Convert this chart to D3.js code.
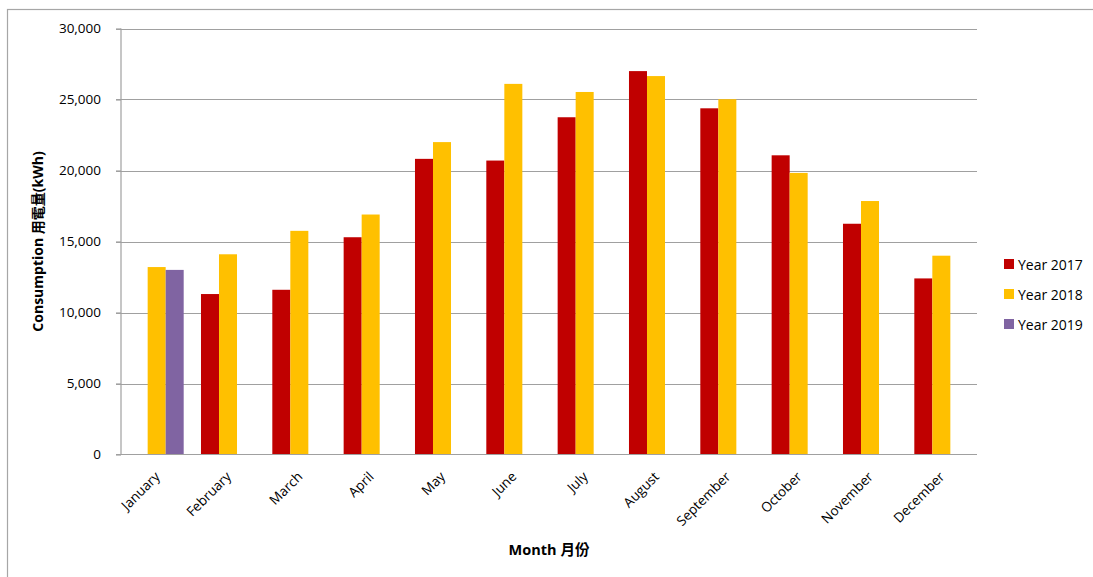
<!DOCTYPE html>
<html>
<head>
<meta charset="utf-8">
<script src="https://cdn.jsdelivr.net/npm/d3@7.9.0/dist/d3.min.js"></script>
<style>
  body { margin: 0; background: #fff; }
  text { font-family: "Open Sans", "Noto Sans CJK TC", sans-serif; fill: #000; }
</style>
</head>
<body>
<svg id="chart" width="1093" height="577"></svg>
<script>
const months = ["January", "February", "March", "April", "May", "June",
  "July", "August", "September", "October", "November", "December"];
const seriesNames = ["Year 2017", "Year 2018", "Year 2019"];
const colors = ["#C00000", "#FFC000", "#8064A2"];

const year2017 = [null, 11300, 11600, 15300, 20820, 20700, 23750, 27000, 24380, 21070, 16250, 12400];
const year2018 = [13200, 14100, 15750, 16900, 22000, 26100, 25530, 26650, 25020, 19830, 17850, 14000];
const year2019 = [13000, null, null, null, null, null, null, null, null, null, null, null];

const yTicks = [0, 5000, 10000, 15000, 20000, 25000, 30000];

const svg = d3.select("#chart");

// outer chart border
svg.append("rect")
  .attr("x", 7.5).attr("y", 9.5)
  .attr("width", 1100).attr("height", 600)
  .attr("fill", "none")
  .attr("stroke", "#a6a6a6")
  .attr("stroke-width", 1.2);

const margin = { top: 28.5, left: 121, right: 977, bottom: 454.5 };

const x = d3.scaleBand()
  .domain(months)
  .range([margin.left, margin.right])
  .paddingInner(0)
  .paddingOuter(0);

const xSub = d3.scaleBand()
  .domain(seriesNames)
  .range([0, x.bandwidth()])
  .paddingOuter(0.48)
  .paddingInner(0);

const y = d3.scaleLinear().domain([0, 30000]).range([margin.bottom, margin.top]);

// gridlines
svg.append("g")
  .selectAll("line")
  .data(yTicks.slice(1))
  .join("line")
  .attr("x1", margin.left - 5).attr("x2", margin.right)
  .attr("y1", d => Math.round(y(d)) + 0.5).attr("y2", d => Math.round(y(d)) + 0.5)
  .attr("stroke", "#a0a0a0")
  .attr("stroke-width", 1.2);

// bars
const rows = months.map((m, i) => ({
  month: m,
  values: [year2017[i], year2018[i], year2019[i]]
}));

svg.append("g")
  .selectAll("g")
  .data(rows)
  .join("g")
  .attr("transform", d => `translate(${x(d.month)},0)`)
  .selectAll("rect")
  .data(d => d.values.map((v, j) => ({ key: seriesNames[j], value: v, color: colors[j] }))
    .filter(d => d.value != null))
  .join("rect")
  .attr("x", d => xSub(d.key))
  .attr("width", xSub.bandwidth())
  .attr("y", d => y(d.value))
  .attr("height", d => y(0) - y(d.value))
  .attr("fill", d => d.color);

// y axis
const yAxis = svg.append("g")
  .attr("transform", `translate(${margin.left},0)`)
  .call(d3.axisLeft(y).tickValues(yTicks).tickSize(5).tickPadding(15)
    .tickFormat(d3.format(",")));
yAxis.select(".domain").attr("stroke", "#a0a0a0").attr("stroke-width", 1.2)
  .attr("d", `M0,${margin.top}V${margin.bottom}`);
yAxis.selectAll(".tick line").attr("stroke", "#a0a0a0").attr("stroke-width", 1.2);
yAxis.selectAll(".tick text")
  .style("font-size", "13.5px")
  .style("font-family", "'Open Sans', sans-serif")
  .attr("fill", "#000");

// x axis
const xAxis = svg.append("g")
  .attr("transform", `translate(0,${margin.bottom})`)
  .call(d3.axisBottom(x).tickSize(0).tickPadding(0));
xAxis.select(".domain").attr("stroke", "#a0a0a0").attr("stroke-width", 1.2)
  .attr("d", `M${margin.left - 5},0H${margin.right}`);
xAxis.selectAll(".tick text")
  .style("font-size", "13.5px")
  .style("font-family", "'Open Sans', sans-serif")
  .attr("fill", "#000")
  .attr("text-anchor", "end")
  .attr("dy", "0")
  .attr("transform", "translate(4,23) rotate(-45)");

// axis titles
svg.append("text")
  .attr("transform", `translate(43,${(margin.top + margin.bottom) / 2}) rotate(-90)`)
  .attr("text-anchor", "middle")
  .style("font-size", "14px")
  .style("font-weight", "bold")
  .text("Consumption 用電量(kWh)");

svg.append("text")
  .attr("x", (margin.left + margin.right) / 2)
  .attr("y", 555)
  .attr("text-anchor", "middle")
  .style("font-size", "14.5px")
  .style("font-weight", "bold")
  .text("Month 月份");

// legend
const legend = svg.append("g").attr("transform", "translate(1004,259)");
seriesNames.forEach((name, i) => {
  legend.append("rect")
    .attr("x", 0).attr("y", i * 30)
    .attr("width", 10).attr("height", 10)
    .attr("fill", colors[i]);
  legend.append("text")
    .attr("x", 14).attr("y", i * 30 + 5)
    .attr("dominant-baseline", "central")
    .style("font-size", "14px")
    .text(name);
});
</script>
</body>
</html>
